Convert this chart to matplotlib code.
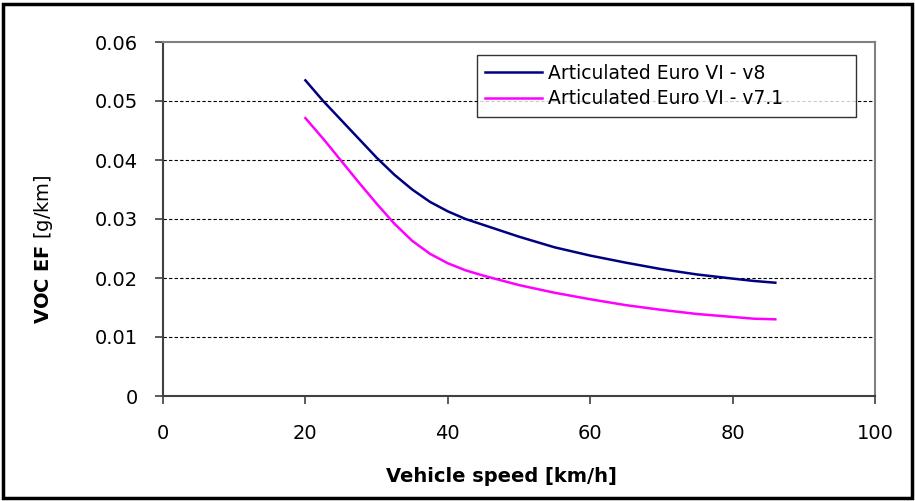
import matplotlib.pyplot as plt
from matplotlib.patches import Rectangle

plt.rcParams['font.family'] = ['DejaVu Sans']
plt.rcParams['mathtext.fontset'] = 'dejavusans'

# speeds [km/h] and VOC emission factors [g/km]
speed_v8 = [20, 22.5, 25, 27.5, 30, 32.5, 35, 37.5, 40, 42.5, 45, 50, 55, 60, 65, 70, 75, 80, 83, 86]
voc_v8 = [0.0535, 0.0500, 0.0468, 0.0436, 0.0404, 0.0375, 0.0350, 0.0329, 0.0313, 0.0300,
          0.0290, 0.0270, 0.0252, 0.0238, 0.0226, 0.0215, 0.0206, 0.0199, 0.0195, 0.0192]

speed_v71 = [20, 22.5, 25, 27.5, 30, 32.5, 35, 37.5, 40, 42.5, 45, 47.5, 50, 55, 60, 65, 70, 75, 80, 83, 86]
voc_v71 = [0.0471, 0.0436, 0.0399, 0.0362, 0.0326, 0.0292, 0.0263, 0.0241, 0.0225, 0.0213,
           0.0204, 0.0196, 0.0188, 0.0175, 0.0164, 0.0154, 0.0146, 0.0139, 0.0134, 0.0131, 0.0130]

xticks = [0, 20, 40, 60, 80, 100]
yticks = [0, 0.01, 0.02, 0.03, 0.04, 0.05, 0.06]
ylabels = ['0', '0.01', '0.02', '0.03', '0.04', '0.05', '0.06']

fig = plt.figure(figsize=(9.15, 5.01), dpi=100)
ax = fig.add_axes([163/915, 1-396/501, 712/915, 354/501])

ax.plot(speed_v8, voc_v8, color='#000080', lw=1.8, label='Articulated Euro VI - v8')
ax.plot(speed_v71, voc_v71, color='#ff00ff', lw=1.8, label='Articulated Euro VI - v7.1')

ax.set_xlim(0, 100)
ax.set_ylim(0, 0.06)
ax.set_xticks(xticks)
ax.set_yticks(yticks)
ax.set_yticklabels(ylabels)
ax.tick_params(labelsize=14, length=6, width=1.2, color='#404040', direction='out')
ax.tick_params(axis='y', pad=12)
ax.tick_params(axis='x', pad=14)

for y in yticks[1:-1]:
    ax.axhline(y, color='black', lw=0.8, ls=(0, (3, 2)), zorder=0)

for s in ax.spines.values():
    s.set_color('#808080')
    s.set_linewidth(1.5)
ax.spines['left'].set_color('#404040')
ax.spines['bottom'].set_color('#404040')

ax.set_xlabel('Vehicle speed [km/h]', fontsize=14, fontweight='bold')
ax.xaxis.set_label_coords(0.476, -0.2)
ax.set_ylabel(r'$\mathbf{VOC\ EF}$ [g/km]', fontsize=14)
ax.yaxis.set_label_coords(-0.152, 0.415)

leg = ax.legend(loc='upper left', bbox_to_anchor=(0.441, 0.786, 0.532, 0.177), mode='expand',
                fontsize=13.5, frameon=True, fancybox=False, edgecolor='black', handlelength=3,
                handletextpad=0.35, borderpad=0.45, labelspacing=0.35, borderaxespad=0)
leg.get_frame().set_linewidth(1.0)

fig.patches.append(Rectangle((3/915, 3/501), 909/915, 494/501, transform=fig.transFigure,
                             fill=False, edgecolor='black', lw=2.5))

fig.savefig('out.png', dpi=100)
